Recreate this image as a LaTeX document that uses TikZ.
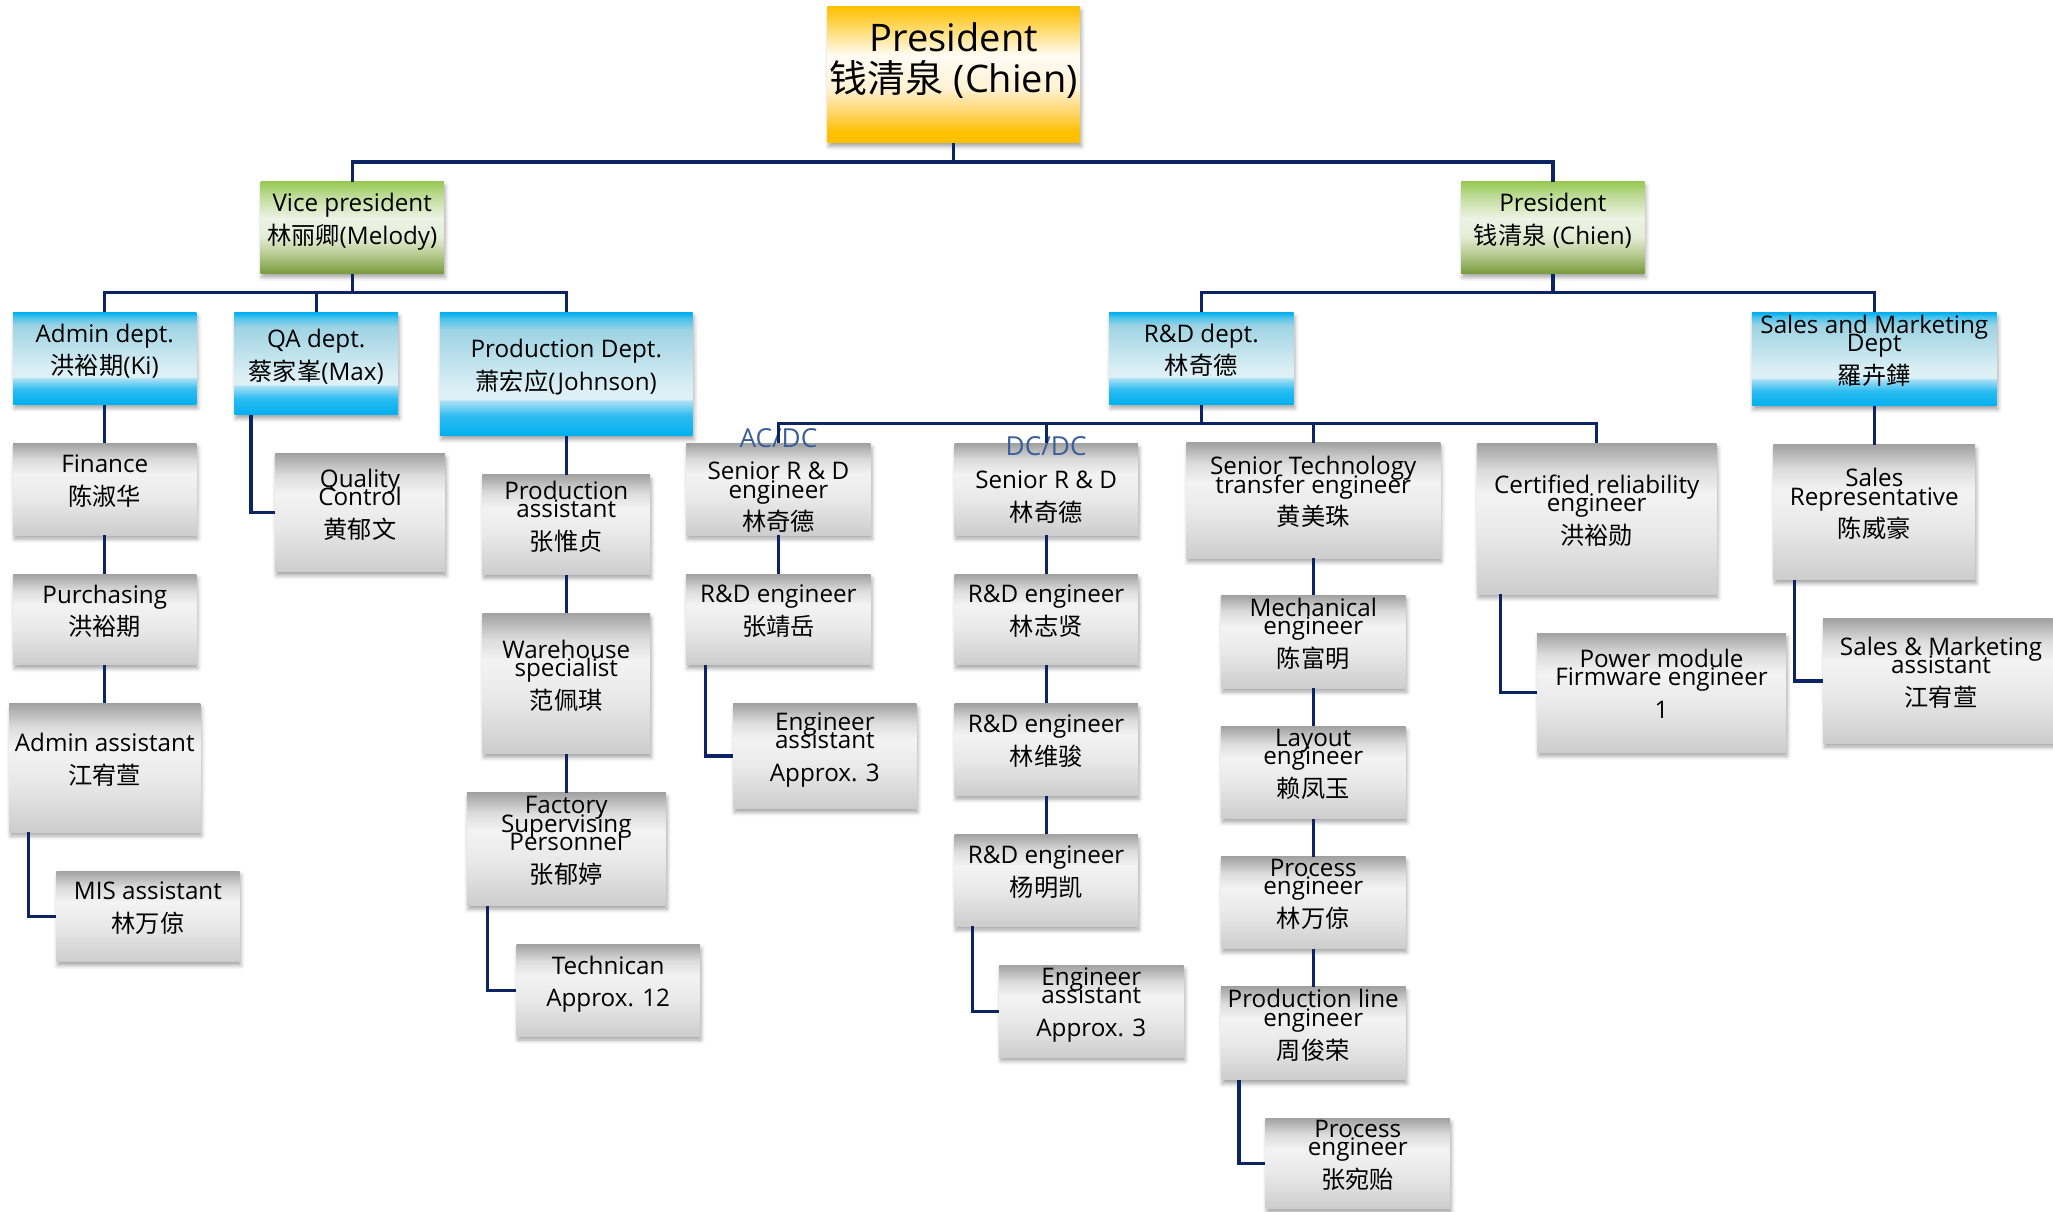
\documentclass[tikz,border=0pt]{standalone}
\usepackage{fontspec}
\setmainfont{Open Sans}
\newfontfamily\cjk{Noto Sans CJK SC}
\usepackage{tikz}
\usetikzlibrary{positioning, shadows.blur}

\definecolor{navy}{RGB}{12,36,100}
\definecolor{tagblue}{RGB}{58,94,156}
% gray boxes
\definecolor{ga}{HTML}{CDCDCD}
\definecolor{gb}{HTML}{E9E9E9}
\definecolor{gc}{HTML}{F3F3F3}
\definecolor{gd}{HTML}{DCDCDC}
\definecolor{ge}{HTML}{A2A2A2}
% blue boxes
\definecolor{ba}{HTML}{00B0F0}
\definecolor{bb}{HTML}{2DBCF1}
\definecolor{bc}{HTML}{A6DFF5}
\definecolor{bd}{HTML}{DFF1F6}
\definecolor{be}{HTML}{D9EEF4}
\definecolor{bf}{HTML}{9ED3E3}
\definecolor{bg}{HTML}{4DC3EC}
% green boxes
\definecolor{va}{HTML}{789B3D}
\definecolor{vb}{HTML}{B4C98C}
\definecolor{vc}{HTML}{E5ECD5}
\definecolor{vd}{HTML}{EEF3E5}
\definecolor{ve}{HTML}{BCDA93}
\definecolor{vf}{HTML}{98C954}
% gold box
\definecolor{oa}{HTML}{FFC000}
\definecolor{ob}{HTML}{FFD25A}
\definecolor{oc}{HTML}{FFF2D4}
\definecolor{od}{HTML}{FFFCF5}
\definecolor{oe}{HTML}{FFD040}

\pgfdeclareverticalshading{grayfade}{100bp}{color(0bp)=(ga); color(25bp)=(ga);
  color(45bp)=(gb); color(58bp)=(gc); color(66bp)=(gd); color(75bp)=(ge); color(100bp)=(ge)}
\pgfdeclareverticalshading{bluefade}{100bp}{color(0bp)=(ba); color(25bp)=(ba);
  color(33bp)=(bb); color(39bp)=(bc); color(40bp)=(bd); color(45bp)=(be);
  color(68bp)=(bf); color(72.5bp)=(bg); color(75bp)=(ba); color(100bp)=(ba)}
\pgfdeclareverticalshading{greenfade}{100bp}{color(0bp)=(va); color(25bp)=(va);
  color(35bp)=(vb); color(45bp)=(vc); color(55bp)=(vd); color(68bp)=(ve);
  color(75bp)=(vf); color(100bp)=(vf)}
\pgfdeclareverticalshading{goldfade}{100bp}{color(0bp)=(oa); color(29bp)=(oa);
  color(35bp)=(ob); color(45bp)=(oc); color(57bp)=(od); color(70bp)=(oe);
  color(75bp)=(oa); color(100bp)=(oa)}

\newcommand{\low}{\rule[-14pt]{0pt}{1pt}}
\newcommand{\high}{\rule{0pt}{26pt}}
\newcommand{\cn}[1]{{\cjk #1}\low}

\tikzstyle{org box}=[
        minimum width = 140pt,
        minimum height = 70pt,
        inner sep = 1pt,
        align = center,
        shade,
        font = \fontsize{18.5}{25}\selectfont,
        blur shadow = {shadow xshift=1pt, shadow yshift=-3pt,
                       shadow blur radius=3pt, shadow opacity=35}
    ]
\tikzstyle{gray box}=[org box, shading = grayfade]
\tikzstyle{blue box}=[org box, shading = bluefade]
\tikzstyle{green box}=[org box, shading = greenfade]
\tikzstyle{gold box}=[org box, shading = goldfade]
\tikzstyle{tag}=[
    text = tagblue,
    inner sep = 0pt,
    font = \fontsize{20}{22}\selectfont
]

\begin{document}
\begin{tikzpicture}[x=1pt, y=-1pt, node distance=29.5pt,
        link/.style = {draw=navy, line width=2.5pt}]
        \useasboundingbox (0,0) rectangle (1568,925);

        % top levels
        \node[gold box, minimum width=193pt, minimum height=104pt,
              font=\fontsize{29}{31}\selectfont] (1) at (728.5,57)
              {President\\{\cjk 钱清泉} (Chien)\rule[-26pt]{0pt}{1pt}};
        \node[green box] (2) [below=of 1, xshift=-459.5pt] {Vice president\\\cn{林丽卿}(Melody)};
        \node[green box] (3) [below=of 1, xshift=457.5pt] {President\\\cn{钱清泉} (Chien)};

        \node[blue box] (4) [below=of 2, xshift=-189pt] {Admin dept.\\\cn{洪裕期}(Ki)};
        \node[blue box, minimum width=125pt, minimum height=78pt] (5) [below=of 2, xshift=-27.5pt] {QA dept.\\\cn{蔡家峯}(Max)};
        \node[blue box, minimum width=193pt, minimum height=94pt] (6) [below=of 2, xshift=163.5pt] {Production Dept.\\\cn{萧宏应}(Johnson)};
        \node[blue box, minimum width=141pt] (7) [below=of 3, xshift=-268.5pt] {R\&D dept.\\\cn{林奇德}};
        \node[blue box, minimum width=187pt, minimum height=71pt] (8) [below=of 3, xshift=245.5pt] {Sales and Marketing\\[-11pt]Dept\\\cn{羅卉鏵}};

        % admin
        \node[gray box] (9) [below=of 4] {Finance\\\cn{陈淑华}};
        \node[gray box, minimum height=69pt] (10) [below=of 9] {Purchasing\\\cn{洪裕期}};
        \node[gray box, minimum width=146pt, minimum height=98pt] (11) [below=of 10] {Admin assistant\\\cn{江宥萱}};
        \node[gray box, minimum height=69pt] (12) [below=of 11, xshift=33pt] {MIS assistant\\\cn{林万倞}};

        % QA
        \node[gray box, minimum width=130pt, minimum height=90pt] (13) [below=of 5, xshift=33.5pt] {Quality\\[-11pt]Control\\\cn{黄郁文}};

        % production
        \node[gray box, minimum width=128pt, minimum height=76pt] (14) [below=of 6] {Production\\[-11pt]assistant\\\cn{张惟贞}};
        \node[gray box, minimum width=128pt, minimum height=107pt] (15) [below=of 14] {Warehouse\\[-11pt]specialist\\\cn{范佩琪}};
        \node[gray box, minimum width=152pt, minimum height=86pt] (16) [below=of 15] {Factory\\[-11pt]Supervising\\[-11pt]Personnel\\\cn{张郁婷}};
        \node[gray box] (17) [below=of 16, xshift=32pt] {Technican\\Approx. 12\low};

        % R&D, AC/DC
        \node[gray box, minimum width=141pt] (18) [below=of 7, xshift=-323pt] {\high Senior R \& D\\[-11pt]engineer\\{\cjk 林奇德}};
        \node[gray box, minimum width=141pt, minimum height=69pt] (19) [below=of 18] {R\&D engineer\\\cn{张靖岳}};
        \node[gray box, minimum height=80pt] (20) [below=of 19, xshift=35.5pt] {Engineer\\[-11pt]assistant\\Approx. 3\low};

        % R&D, DC/DC
        \node[gray box] (21) [below=of 7, xshift=-118.5pt] {\high Senior R \& D\\{\cjk 林奇德}};
        \node[gray box, minimum height=69pt] (22) [below=of 21] {R\&D engineer\\\cn{林志贤}};
        \node[gray box] (23) [below=of 22] {R\&D engineer\\\cn{林维骏}};
        \node[gray box] (24) [below=of 23] {R\&D engineer\\\cn{杨明凯}};
        \node[gray box, minimum width=141pt] (25) [below=of 24, xshift=34.5pt] {Engineer\\[-11pt]assistant\\Approx. 3\low};

        % R&D, technology transfer
        \node[gray box, minimum width=194pt, minimum height=88pt] (26) [below=29pt of 7, xshift=85.5pt] {Senior Technology\\[-11pt]transfer engineer\\\cn{黄美珠}};
        \node[gray box, minimum width=141pt, minimum height=71pt] (27) [below=28pt of 26] {Mechanical\\[-11pt]engineer\\\cn{陈富明}};
        \node[gray box, minimum width=141pt] (28) [below=29pt of 27] {Layout\\[-11pt]engineer\\\cn{赖凤玉}};
        \node[gray box, minimum width=141pt] (29) [below=29pt of 28] {Process\\[-11pt]engineer\\\cn{林万倞}};
        \node[gray box, minimum width=141pt, minimum height=71pt] (30) [below=29pt of 29] {Production line\\[-11pt]engineer\\\cn{周俊荣}};
        \node[gray box, minimum width=141pt, minimum height=69pt] (31) [below=29pt of 30, xshift=34pt] {Process\\[-11pt]engineer\\\cn{张宛贻}};

        % R&D, reliability
        \node[gray box, minimum width=183pt, minimum height=115pt] (32) [below=of 7, xshift=302pt] {Certified reliability\\[-11pt]engineer\\\cn{洪裕勋}};
        \node[gray box, minimum width=190pt, minimum height=91pt] (33) [below=of 32, xshift=49.5pt] {Power module\\[-11pt]Firmware engineer\\1\low};

        % sales
        \node[gray box, minimum width=154pt, minimum height=103pt] (34) [below=of 8] {Sales\\[-11pt]Representative\\\cn{陈威豪}};
        \node[gray box, minimum width=180pt, minimum height=95pt] (35) [below=of 34, xshift=51pt] {Sales \& Marketing\\[-11pt]assistant\\\cn{江宥萱}};

        \node[tag] (36) at ([yshift=4pt]18.north) {AC/DC};
        \node[tag] (37) at ([yshift=-2.5pt]21.north) {DC/DC};

        % buses
        \draw[link] (1.south) -- ++(0,14.5) coordinate (b1);
        \draw[link] (2.north) |- (b1) -| (3.north);
        \draw[link] (2.south) -- ++(0,14.5) coordinate (b2);
        \draw[link] (4.north) |- (b2) -| (6.north);
        \draw[link] (5.north) -- (5.north |- b2);
        \draw[link] (3.south) -- ++(0,14.5) coordinate (b3);
        \draw[link] (7.north) |- (b3) -| (8.north);
        \draw[link] (7.south) -- ++(0,14.5) coordinate (b4);
        \draw[link] (18.north) |- (b4) -| (32.north);
        \draw[link] (21.north) -- (21.north |- b4);
        \draw[link] (26.north) -- (26.north |- b4);

        % columns
        \draw[link] (4.south) -- (9.north);
        \draw[link] (9.south) -- (10.north);
        \draw[link] (10.south) -- (11.north);
        \draw[link] ([xshift=15pt]11.south west) |- (12.west);
        \draw[link] ([xshift=13pt]5.south west) |- (13.west);
        \draw[link] (6.south) -- (14.north);
        \draw[link] (14.south) -- (15.north);
        \draw[link] (15.south) -- (16.north);
        \draw[link] ([xshift=16pt]16.south west) |- (17.west);
        \draw[link] (18.south) -- (19.north);
        \draw[link] ([xshift=15pt]19.south west) |- (20.west);
        \draw[link] (21.south) -- (22.north);
        \draw[link] (22.south) -- (23.north);
        \draw[link] (23.south) -- (24.north);
        \draw[link] ([xshift=14pt]24.south west) |- (25.west);
        \draw[link] (26.south) -- (27.north);
        \draw[link] (27.south) -- (28.north);
        \draw[link] (28.south) -- (29.north);
        \draw[link] (29.south) -- (30.north);
        \draw[link] ([xshift=14pt]30.south west) |- (31.west);
        \draw[link] ([xshift=18pt]32.south west) |- (33.west);
        \draw[link] (8.south) -- (34.north);
        \draw[link] ([xshift=16pt]34.south west) |- (35.west);

    \end{tikzpicture}
\end{document}
